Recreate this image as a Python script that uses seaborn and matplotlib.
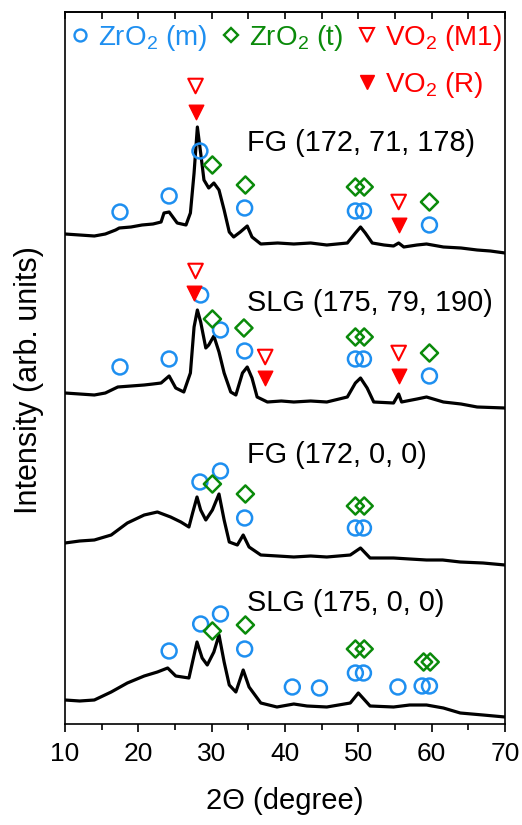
import matplotlib
matplotlib.use("Agg")
import matplotlib.pyplot as plt
from matplotlib.lines import Line2D
from matplotlib.ticker import MultipleLocator, NullFormatter
import seaborn as sns

# ---------------- data (2theta in degree, intensity in arb. units incl. stacking offset) -------------
fg1_x = [10, 12.0, 14.0, 15.5, 16.9, 17.4, 19.0, 20.5, 22.0, 23.1, 23.5, 24.2, 25.3, 26.5, 27.1, 27.6,
         28.05, 28.5, 28.95, 29.6, 30.3, 31.0, 31.7, 32.4, 33.0, 33.9, 34.85, 35.5, 36.7, 39.0,
         41.2, 43.5, 45.7, 48.5, 49.6, 50.3, 50.95, 51.9, 53.5, 54.8, 55.5, 56.2, 58.0, 59.3, 61.6,
         64.0, 66.2, 68.0, 70]
fg1_y = [490, 489, 488, 490, 494, 496, 497, 499, 500, 502, 511, 512, 501, 499, 511, 551,
         597, 571, 544, 536, 541, 534, 514, 492, 487, 492, 498, 487, 480, 481,
         480, 481, 479, 481, 491, 497, 491, 481, 479, 478, 481, 477, 479, 480, 477,
         476, 474, 473, 471]

slg1_x = [10, 12.0, 14.0, 15.5, 17.2, 19.0, 20.8, 22.0, 23.1, 24.2, 25.1, 26.2, 27.1, 27.6, 28.05,
          28.5, 29.2, 29.6, 30.3, 31.0, 31.7, 32.6, 33.3, 34.2, 34.85, 35.5, 36.2, 37.6, 39.5,
          41.2, 43.5, 45.7, 48.5, 49.6, 50.3, 51.2, 52.1, 54.8, 55.5, 55.9, 58.0, 59.3, 61.6,
          64.0, 66.2, 70]
slg1_y = [331, 330, 329, 331, 337, 338, 339, 340, 341, 348, 336, 332, 351, 397, 414,
          402, 376, 379, 388, 372, 351, 332, 329, 351, 357, 346, 327, 322, 323,
          322, 323, 322, 327, 341, 346, 336, 322, 321, 330, 322, 325, 327, 322,
          320, 317, 316]

fg0_x = [10, 12.0, 14.0, 16.3, 18.5, 20.8, 22.6, 24.4, 25.8, 26.9, 27.4, 28.0, 28.5, 29.2, 30.1,
         31.0, 31.7, 32.4, 33.5, 34.3, 35.1, 36.7, 39.0, 41.2, 43.5, 45.7, 48.9, 50.3, 51.6,
         54.8, 57.0, 59.3, 61.5, 63.9, 67.0, 70]
fg0_y = [181, 183, 184, 189, 201, 209, 212, 207, 202, 197, 211, 227, 214, 204, 214,
         230, 204, 182, 179, 189, 177, 169, 168, 167, 168, 167, 169, 176, 166,
         166, 165, 164, 164, 162, 161, 159]

slg0_x = [10, 12.0, 14.0, 16.3, 18.5, 20.8, 22.6, 24.0, 25.1, 26.9, 28.0, 28.7, 29.4, 30.3, 31.0,
          31.7, 32.4, 33.3, 34.3, 35.1, 36.7, 38.9, 41.2, 43.0, 45.7, 48.9, 50.0, 51.6, 54.8,
          57.0, 59.3, 61.6, 63.9, 67.0, 70]
slg0_y = [24, 23, 24, 32, 41, 48, 52, 56, 48, 46, 82, 66, 59, 72, 89,
          62, 39, 32, 54, 37, 21, 17, 20, 18, 17, 21, 31, 18, 17,
          19, 19, 16, 11, 9, 7]

# phase markers (2theta, height)
m_x = [17.5, 24.2, 28.4, 34.5, 49.6, 50.7, 59.7,
       17.5, 24.2, 28.5, 31.2, 34.5, 49.6, 50.7, 59.7,
       28.4, 31.2, 34.5, 49.6, 50.7,
       24.2, 28.5, 31.2, 34.5, 41.0, 44.7, 49.6, 50.7, 55.4, 58.7, 59.7]
m_y = [512, 528, 573, 516, 513, 513, 499,
       357, 365, 429, 394, 373, 365, 365, 348,
       242, 253, 206, 196, 196,
       73, 100, 110, 75, 37, 36, 51, 51, 37, 38, 38]
t_x = [30.1, 34.6, 49.6, 50.8, 59.7,
       30.1, 34.4, 49.6, 50.8, 59.7,
       30.1, 34.6, 49.6, 50.8,
       30.1, 34.6, 49.6, 50.8, 58.9, 59.8]
t_y = [559, 539, 537, 537, 522,
       405, 396, 387, 387, 371,
       240, 230, 218, 218,
       93, 99, 75, 75, 62, 62]
m1_x = [27.8, 55.5, 27.8, 37.3, 55.5]
m1_y = [638, 522, 453, 367, 371]
r_x = [27.8, 55.5, 27.6, 37.3, 55.5]
r_y = [612, 499, 431, 346, 348]

sample_labels = ["FG (172, 71, 178)", "SLG (175, 79, 190)", "FG (172, 0, 0)", "SLG (175, 0, 0)"]
label_y = [581, 421, 269, 121]
legend_labels = ["ZrO$_2$ (m)", "ZrO$_2$ (t)", "VO$_2$ (M1)", "VO$_2$ (R)"]
x_ticks = [10, 20, 30, 40, 50, 60, 70]

BLUE = "#1E8FF0"
GREEN = "#0A8A0A"
RED = "#FF0000"

# ---------------- style ----------------
sns.set_style("ticks")
plt.rcParams["font.family"] = ["Liberation Sans", "DejaVu Sans"]
plt.rcParams["mathtext.fontset"] = "custom"
plt.rcParams["mathtext.rm"] = "Liberation Sans"
plt.rcParams["mathtext.default"] = "regular"
for k in ["text.color", "axes.labelcolor", "xtick.color", "ytick.color", "axes.edgecolor",
          "xtick.labelcolor", "ytick.labelcolor"]:
    plt.rcParams[k] = "black"

fig = plt.figure(figsize=(5.22, 8.25), dpi=100)
ax = fig.add_axes([65 / 522, 1 - 724 / 825, 440 / 522, 712 / 825])

curves = [(fg1_x, fg1_y), (slg1_x, slg1_y), (fg0_x, fg0_y), (slg0_x, slg0_y)]
for cx, cy in curves:
    sns.lineplot(x=cx, y=cy, ax=ax, color="black", lw=2.3, sort=False, estimator=None)

sns.scatterplot(x=m_x, y=m_y, ax=ax, marker="o", s=115, facecolor="none", edgecolor=BLUE,
                linewidth=1.8, zorder=5)
sns.scatterplot(x=t_x, y=t_y, ax=ax, marker="D", s=76, facecolor="none", edgecolor=GREEN,
                linewidth=1.8, zorder=5)
sns.scatterplot(x=m1_x, y=m1_y, ax=ax, marker="v", s=110, facecolor="none", edgecolor=RED,
                linewidth=1.5, zorder=5)
sns.scatterplot(x=r_x, y=r_y, ax=ax, marker="v", s=110, facecolor=RED, edgecolor=RED,
                linewidth=1.0, zorder=5)

for lab, ly in zip(sample_labels, label_y):
    ax.text(34.8, ly, lab, fontsize=20.8, ha="left", va="center", color="black")

ax.set_xlim(10, 70)
ax.set_ylim(0, 712)
ax.set_xticks(x_ticks)
ax.xaxis.set_minor_locator(MultipleLocator(5))
ax.set_yticks([])
ax.tick_params(axis="x", which="major", direction="out", length=6, width=1.2, labelsize=19, pad=7)
ax.tick_params(axis="x", which="minor", direction="out", length=4, width=1.2)
for sp in ax.spines.values():
    sp.set_linewidth(1.2)
    sp.set_visible(True)

sec = ax.secondary_xaxis("top")
sec.set_xticks(x_ticks)
sec.xaxis.set_minor_locator(MultipleLocator(5))
sec.xaxis.set_major_formatter(NullFormatter())
sec.tick_params(axis="x", which="major", direction="in", length=5, width=1.2)
sec.tick_params(axis="x", which="minor", direction="in", length=5, width=1.2)
sec.spines["top"].set_linewidth(1.2)

ax.set_xlabel("2\u0398 (degree)", fontsize=21, labelpad=15)
ax.set_ylabel("Intensity (arb. units)", fontsize=22)
ax.yaxis.label.set_verticalalignment("center")
ax.yaxis.set_label_coords((29 - 65) / 440, (724 - 380) / 712)

blank = Line2D([], [], ls="", marker="")
handles = [
    Line2D([], [], ls="", marker="o", mfc="none", mec=BLUE, mew=1.7, ms=8.6),
    blank,
    Line2D([], [], ls="", marker="D", mfc="none", mec=GREEN, mew=1.7, ms=7.6),
    blank,
    Line2D([], [], ls="", marker="v", mfc="none", mec=RED, mew=1.5, ms=9.6),
    Line2D([], [], ls="", marker="v", mfc=RED, mec=RED, mew=1.0, ms=9.6),
]
labels = [legend_labels[0], "", legend_labels[1], "", legend_labels[2], legend_labels[3]]
colors = [BLUE, "none", GREEN, "none", RED, RED]
leg = ax.legend(handles, labels, ncol=3, loc="upper left",
                bbox_to_anchor=(72 / 522, 1 - 23 / 825), bbox_transform=fig.transFigure,
                frameon=False, fontsize=20, handlelength=0.6, handletextpad=0.35,
                columnspacing=0.55, labelspacing=0.62, borderpad=0, borderaxespad=0,
                labelcolor=colors)

fig.savefig("out.png", dpi=100)
